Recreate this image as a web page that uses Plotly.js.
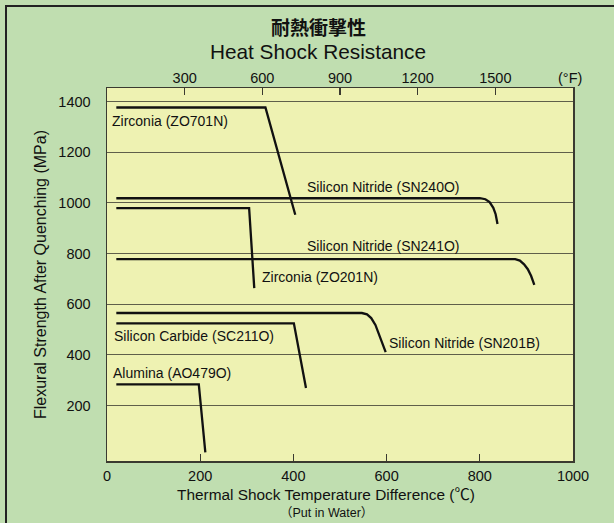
<!DOCTYPE html>
<html>
<head>
<meta charset="utf-8">
<script src="https://cdn.plot.ly/plotly-3.0.1.min.js"></script>
<style>
  html, body { margin: 0; padding: 0; background: #C0DEB0; }
  #chart { width: 614px; height: 523px; }
</style>
</head>
<body>
<div id="chart"></div>
<script>
// ---- Data ----
const materials = [
  "Zirconia (ZO701N)",
  "Silicon Nitride (SN240O)",
  "Zirconia (ZO201N)",
  "Silicon Nitride (SN241O)",
  "Silicon Nitride (SN201B)",
  "Silicon Carbide (SC211O)",
  "Alumina (AO479O)"
];
// temperature difference (°C) and flexural strength (MPa)
const zo701nX = [20, 340, 404];
const zo701nY = [1376, 1376, 953];
const sn240oX = [20, 800, 812, 821, 829, 834, 838];
const sn240oY = [1018, 1018, 1014, 1003, 980, 955, 916];
const zo201nX = [20, 305, 316];
const zo201nY = [979, 979, 663];
const sn241oX = [20, 876, 886, 895, 903, 910, 917];
const sn241oY = [778, 778, 772, 757, 738, 712, 676];
const sn201bX = [20, 547, 558, 567, 576, 586, 598];
const sn201bY = [565, 565, 560, 545, 518, 472, 411];
const sc211oX = [20, 401, 427];
const sc211oY = [524, 524, 269];
const ao479oX = [20, 197, 211];
const ao479oY = [283, 283, 15];

const celsiusTicks = [0, 200, 400, 600, 800, 1000];
const fahrenheitTicks = [300, 600, 900, 1200, 1500];
const strengthTicks = [200, 400, 600, 800, 1000, 1200, 1400];

const seriesX = [zo701nX, sn240oX, zo201nX, sn241oX, sn201bX, sc211oX, ao479oX];
const seriesY = [zo701nY, sn240oY, zo201nY, sn241oY, sn201bY, sc211oY, ao479oY];

// ---- Styling ----
const FONT = 'Arial, "Liberation Sans", "Noto Sans CJK JP", sans-serif';
const INK = '#111111';
const FRAME = '#3a3a30';

const traces = materials.map((name, i) => ({
  type: 'scatter',
  mode: 'lines',
  name: name,
  x: seriesX[i],
  y: seriesY[i],
  line: { color: INK, width: 2.3, shape: 'linear' },
  hoverinfo: 'x+y+name',
  showlegend: false
}));
// carrier for the °F axis
traces.push({ type: 'scatter', mode: 'lines', x: [], y: [], xaxis: 'x2', yaxis: 'y', showlegend: false, hoverinfo: 'skip' });

// label anchor points (left edge, vertical middle) in data units
const labelPos = [
  [7, 1321],
  [424, 1064],
  [329, 709],
  [424, 830],
  [600, 446],
  [10, 475],
  [8, 328]
];

const annotations = materials.map((name, i) => ({
  x: labelPos[i][0], y: labelPos[i][1], xref: 'x', yref: 'y',
  text: name, showarrow: false, xanchor: 'left', yanchor: 'middle',
  font: { family: FONT, size: 14, color: INK }
}));

// plot area in pixels: left 107, right 573, top 88, bottom 461
const PL = 107, PW = 466, PT = 88, PH = 373;
const px2x = (px) => (px - PL) / PW;
const py2y = (py) => (PT + PH - py) / PH;

annotations.push({
  x: px2x(318), y: py2y(27), xref: 'paper', yref: 'paper',
  text: '耐熱衝撃性', showarrow: false, xanchor: 'center', yanchor: 'middle',
  font: { family: '"Noto Sans CJK JP", sans-serif', size: 19, color: INK, weight: 'bold' }
});
annotations.push({
  x: px2x(570), y: py2y(78), xref: 'paper', yref: 'paper',
  text: '(°F)', showarrow: false, xanchor: 'center', yanchor: 'middle',
  font: { family: FONT, size: 14.5, color: INK }
});
annotations.push({
  x: px2x(326), y: py2y(494), xref: 'paper', yref: 'paper',
  text: 'Thermal Shock Temperature Difference (℃)', showarrow: false,
  xanchor: 'center', yanchor: 'middle',
  font: { family: FONT, size: 15.4, color: INK }
});
annotations.push({
  x: px2x(326), y: py2y(513), xref: 'paper', yref: 'paper',
  text: '（Put in Water）', showarrow: false,
  xanchor: 'center', yanchor: 'middle',
  font: { family: FONT, size: 12.5, color: INK }
});

const layout = {
  width: 614, height: 523,
  paper_bgcolor: '#C0DEB0',
  plot_bgcolor: '#EEF2B2',
  margin: { l: PL, r: 614 - PL - PW, t: PT, b: 523 - PT - PH, pad: 0 },
  font: { family: FONT, color: INK, size: 14.5 },
  title: {
    text: 'Heat Shock Resistance',
    font: { family: FONT, size: 20.8, color: INK },
    x: 318 / 614, xanchor: 'center', xref: 'container',
    y: 1 - 52 / 523, yanchor: 'middle', yref: 'container'
  },
  xaxis: {
    range: [0, 1000],
    tickvals: celsiusTicks,
    ticks: 'inside', ticklen: 7, tickwidth: 1.2, tickcolor: FRAME,
    showgrid: false, zeroline: false,
    showline: true, linecolor: FRAME, linewidth: 1.5, mirror: true,
    tickfont: { family: FONT, size: 14.5, color: INK },
    ticklabelstandoff: 1,
    fixedrange: true
  },
  xaxis2: {
    overlaying: 'x', side: 'top', anchor: 'y',
    range: [0, 1800],
    tickvals: fahrenheitTicks,
    ticks: 'inside', ticklen: 7, tickwidth: 1.2, tickcolor: FRAME,
    showgrid: false, zeroline: false, showline: false,
    tickfont: { family: FONT, size: 14.5, color: INK },
    ticklabelstandoff: 1,
    fixedrange: true
  },
  yaxis: {
    range: [-19, 1453],
    tickvals: strengthTicks,
    ticks: '',
    showgrid: true, gridcolor: '#5f5f4a', gridwidth: 1.2,
    zeroline: false,
    showline: true, linecolor: FRAME, linewidth: 1.5, mirror: true,
    tickfont: { family: FONT, size: 14.5, color: INK },
    ticklabelstandoff: 12,
    title: { text: 'Flexural Strength After Quenching (MPa)', font: { family: FONT, size: 16, color: INK }, standoff: 7 },
    fixedrange: true
  },
  shapes: [{
    type: 'rect', xref: 'paper', yref: 'paper',
    x0: px2x(6), y0: py2y(700), x1: px2x(800), y1: py2y(6),
    line: { color: '#222222', width: 2 }, fillcolor: 'rgba(0,0,0,0)', layer: 'above'
  }],
  annotations: annotations,
  showlegend: false
};

Plotly.newPlot('chart', traces, layout, { displayModeBar: false, staticPlot: true });
</script>
</body>
</html>
